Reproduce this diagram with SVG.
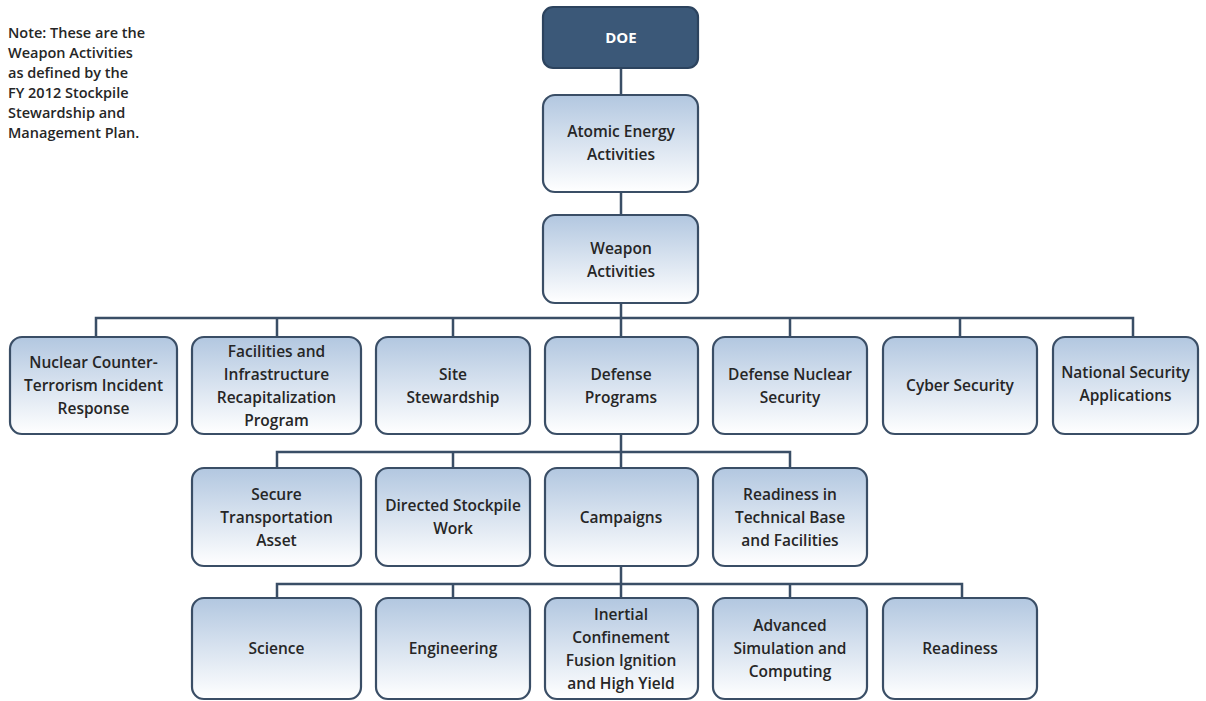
<svg xmlns="http://www.w3.org/2000/svg" width="1206" height="701" viewBox="0 0 1206 701">
<defs>
<linearGradient id="g" x1="0" y1="0" x2="0" y2="1">
<stop offset="0" stop-color="#b2c7e0"/>
<stop offset="1" stop-color="#ffffff"/>
</linearGradient>
</defs>
<style>
.box{fill:url(#g);stroke:#3a4e66;stroke-width:2.2}
.doe{fill:#3b5878;stroke:#2c435e;stroke-width:2.2}
.t{font-family:"Open Sans","Liberation Sans",sans-serif;font-size:15.5px;font-weight:600;fill:#262626;text-anchor:middle}
.w{font-family:"Open Sans","Liberation Sans",sans-serif;font-size:15px;font-weight:700;fill:#ffffff;text-anchor:middle}
.note{font-family:"Open Sans","Liberation Sans",sans-serif;font-size:14.5px;font-weight:600;fill:#262626}
.c{stroke:#3a4e66;stroke-width:2.5;fill:none}
</style>
<rect width="1206" height="701" fill="#ffffff"/>
<g id="note">
<text class="note" x="8" y="38">Note: These are the</text>
<text class="note" x="8" y="58">Weapon Activities</text>
<text class="note" x="8" y="78">as defined by the</text>
<text class="note" x="8" y="98">FY 2012 Stockpile</text>
<text class="note" x="8" y="118">Stewardship and</text>
<text class="note" x="8" y="138">Management Plan.</text>
</g>
<g id="connectors">
<path class="c" d="M621,68V95M621,192V215M621,303V337"/>
<path class="c" d="M96,337V318H1133V337M277,318V337M453,318V337M790,318V337M960,318V337"/>
<path class="c" d="M621,434V468M277,468V452H790V468M453,452V468"/>
<path class="c" d="M621,566V598M277,598V584H962V598M453,584V598M790,584V598"/>
</g>
<g id="doe"><rect class="doe" x="543" y="7" width="155" height="61" rx="10"/><text class="w" x="621" y="43">DOE</text></g>
<g id="atomic"><rect class="box" x="543" y="95" width="155" height="97" rx="12"/><text class="t" x="621" y="137">Atomic Energy</text><text class="t" x="621" y="160">Activities</text></g>
<g id="weapon"><rect class="box" x="543" y="215" width="155" height="88" rx="12"/><text class="t" x="621" y="254">Weapon</text><text class="t" x="621" y="277">Activities</text></g>

<g id="nuclear"><rect class="box" x="10" y="337" width="167" height="97" rx="12"/><text class="t" x="93.5" y="368">Nuclear Counter-</text><text class="t" x="93.5" y="391">Terrorism Incident</text><text class="t" x="93.5" y="414">Response</text></g>
<g id="facilities"><rect class="box" x="192" y="337" width="169" height="97" rx="12"/><text class="t" x="276.5" y="357">Facilities and</text><text class="t" x="276.5" y="380">Infrastructure</text><text class="t" x="276.5" y="403">Recapitalization</text><text class="t" x="276.5" y="426">Program</text></g>
<g id="site"><rect class="box" x="376" y="337" width="154" height="97" rx="12"/><text class="t" x="453" y="380">Site</text><text class="t" x="453" y="403">Stewardship</text></g>
<g id="defense"><rect class="box" x="545" y="337" width="153" height="97" rx="12"/><text class="t" x="621" y="380">Defense</text><text class="t" x="621" y="403">Programs</text></g>
<g id="dns"><rect class="box" x="713" y="337" width="154" height="97" rx="12"/><text class="t" x="790" y="380">Defense Nuclear</text><text class="t" x="790" y="403">Security</text></g>
<g id="cyber"><rect class="box" x="883" y="337" width="154" height="97" rx="12"/><text class="t" x="960" y="391">Cyber Security</text></g>
<g id="nsa"><rect class="box" x="1053" y="337" width="145" height="97" rx="12"/><text class="t" x="1125.5" y="378">National Security</text><text class="t" x="1125.5" y="401">Applications</text></g>

<g id="secure"><rect class="box" x="192" y="468" width="169" height="98" rx="12"/><text class="t" x="276.5" y="500">Secure</text><text class="t" x="276.5" y="523">Transportation</text><text class="t" x="276.5" y="546">Asset</text></g>
<g id="dsw"><rect class="box" x="376" y="468" width="154" height="98" rx="12"/><text class="t" x="453" y="511">Directed Stockpile</text><text class="t" x="453" y="534">Work</text></g>
<g id="campaigns"><rect class="box" x="545" y="468" width="153" height="98" rx="12"/><text class="t" x="621" y="523">Campaigns</text></g>
<g id="readiness-tb"><rect class="box" x="713" y="468" width="154" height="98" rx="12"/><text class="t" x="790" y="500">Readiness in</text><text class="t" x="790" y="523">Technical Base</text><text class="t" x="790" y="546">and Facilities</text></g>

<g id="science"><rect class="box" x="192" y="598" width="169" height="101" rx="12"/><text class="t" x="276.5" y="654">Science</text></g>
<g id="engineering"><rect class="box" x="376" y="598" width="154" height="101" rx="12"/><text class="t" x="453" y="654">Engineering</text></g>
<g id="icf"><rect class="box" x="545" y="598" width="153" height="101" rx="12"/><text class="t" x="621" y="620">Inertial</text><text class="t" x="621" y="643">Confinement</text><text class="t" x="621" y="666">Fusion Ignition</text><text class="t" x="621" y="689">and High Yield</text></g>
<g id="asc"><rect class="box" x="713" y="598" width="154" height="101" rx="12"/><text class="t" x="790" y="631">Advanced</text><text class="t" x="790" y="654">Simulation and</text><text class="t" x="790" y="677">Computing</text></g>
<g id="readiness"><rect class="box" x="883" y="598" width="154" height="101" rx="12"/><text class="t" x="960" y="654">Readiness</text></g>
</svg>
